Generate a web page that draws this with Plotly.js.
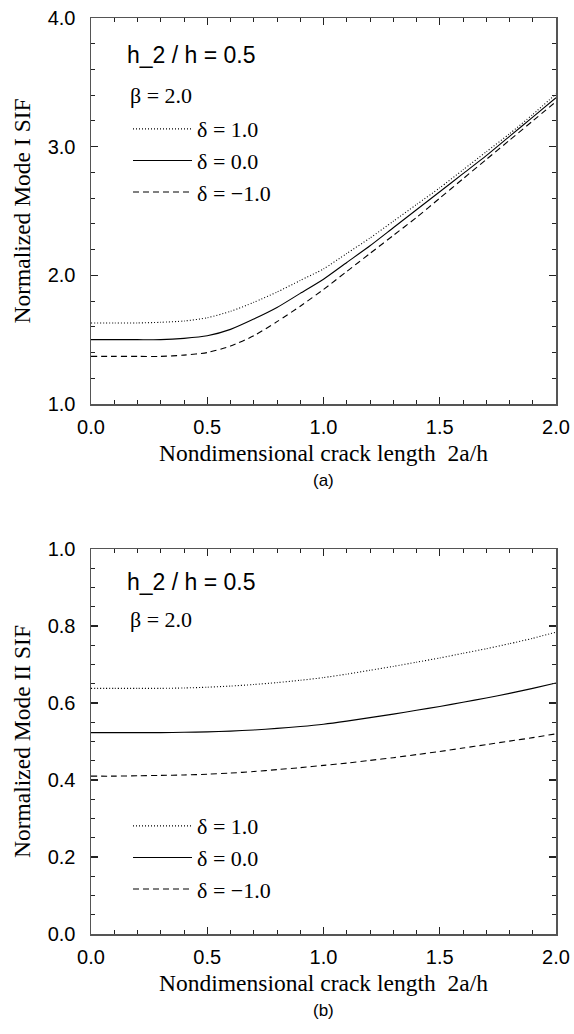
<!DOCTYPE html>
<html>
<head>
<meta charset="utf-8">
<script src="https://cdn.plot.ly/plotly-3.0.1.min.js"></script>
<style>html,body{margin:0;padding:0;background:#fff;}#chart{width:574px;height:1034px;}</style>
</head>
<body>
<div id="chart"></div>
<script>
// ---- data ----
const crackLength = [0.0,0.1,0.2,0.3,0.4,0.5,0.6,0.7,0.8,0.9,1.0,1.1,1.2,1.3,1.4,1.5,1.6,1.7,1.8,1.9,2.0];
const seriesNames = ['δ = 1.0', 'δ = 0.0', 'δ = −1.0'];

// Panel (a): Normalized Mode I SIF
const modeI_d1  = [1.63,1.63,1.63,1.635,1.645,1.67,1.72,1.79,1.87,1.96,2.05,2.17,2.29,2.42,2.55,2.68,2.82,2.96,3.10,3.25,3.41];
const modeI_d0  = [1.50,1.50,1.50,1.50,1.51,1.53,1.58,1.66,1.75,1.86,1.97,2.10,2.23,2.37,2.51,2.65,2.79,2.93,3.08,3.23,3.38];
const modeI_dm1 = [1.37,1.37,1.37,1.37,1.38,1.40,1.45,1.53,1.64,1.76,1.89,2.03,2.17,2.31,2.45,2.60,2.75,2.90,3.05,3.20,3.35];

// Panel (b): Normalized Mode II SIF
const modeII_d1  = [0.638,0.638,0.638,0.638,0.639,0.641,0.644,0.648,0.653,0.659,0.666,0.675,0.685,0.695,0.706,0.717,0.729,0.741,0.754,0.768,0.784];
const modeII_d0  = [0.523,0.523,0.523,0.523,0.524,0.525,0.527,0.530,0.534,0.539,0.545,0.553,0.562,0.571,0.581,0.591,0.602,0.613,0.625,0.638,0.652];
const modeII_dm1 = [0.410,0.410,0.411,0.412,0.413,0.415,0.418,0.422,0.427,0.432,0.438,0.444,0.451,0.458,0.466,0.474,0.483,0.492,0.501,0.510,0.520];

const yTicksI = [1.0,2.0,3.0,4.0];
const yTicksII = [0.0,0.2,0.4,0.6,0.8,1.0];
const xTicks = [0.0,0.5,1.0,1.5,2.0];

// ---- styles ----
const dashes = ['1px,2px', 'solid', '6px,4px'];
const sans = 'Liberation Sans, Arial, sans-serif';
const serif = 'Liberation Serif, Times New Roman, serif';

function mk(y, i, xa, ya, leg) {
  return {
    x: crackLength, y: y, type: 'scatter', mode: 'lines',
    name: seriesNames[i], xaxis: xa, yaxis: ya, legend: leg,
    line: {color: '#000', width: 1.1, dash: dashes[i], shape: 'spline', smoothing: 0.6},
    hoverinfo: 'skip'
  };
}

const traces = [
  mk(modeI_d1, 0, 'x', 'y', 'legend'),
  mk(modeI_d0, 1, 'x', 'y', 'legend'),
  mk(modeI_dm1, 2, 'x', 'y', 'legend'),
  mk(modeII_d1, 0, 'x2', 'y2', 'legend2'),
  mk(modeII_d0, 1, 'x2', 'y2', 'legend2'),
  mk(modeII_dm1, 2, 'x2', 'y2', 'legend2')
];

const fmt = v => v.toFixed(1);

function xax(anchor) {
  return {
    anchor: anchor, domain: [0, 1], range: [0, 2],
    tickvals: xTicks, ticktext: xTicks.map(fmt),
    ticks: 'inside', ticklen: 7, tickwidth: 1.2, tickcolor: '#222',
    minor: {dtick: 0.1, ticks: 'inside', ticklen: 4, tickwidth: 1, tickcolor: '#222'},
    showline: true, linecolor: '#555', linewidth: 1.5, mirror: 'allticks',
    showgrid: false, zeroline: false, ticklabelstandoff: 4,
    tickfont: {family: sans, size: 20, color: '#000'},
    title: {text: 'Nondimensional crack length\u00a0 2a/h', font: {family: serif, size: 23.5, color: '#000'}, standoff: 8}
  };
}
function yax(anchor, domain, range, vals, minorStep, title) {
  return {
    anchor: anchor, domain: domain, range: range,
    tickvals: vals, ticktext: vals.map(fmt),
    ticks: 'inside', ticklen: 7, tickwidth: 1.2, tickcolor: '#222',
    minor: {dtick: minorStep, ticks: 'inside', ticklen: 4, tickwidth: 1, tickcolor: '#222'},
    showline: true, linecolor: '#555', linewidth: 1.5, mirror: 'allticks',
    showgrid: false, zeroline: false, ticklabelstandoff: 10,
    tickfont: {family: sans, size: 20, color: '#000'},
    title: {text: title, font: {family: serif, size: 23.5, color: '#000'}, standoff: 10}
  };
}

const layout = {
  width: 574, height: 1034,
  paper_bgcolor: '#fff', plot_bgcolor: '#fff',
  margin: {l: 91, r: 18, t: 18, b: 100},
  showlegend: true,
  xaxis: xax('y'),
  yaxis: yax('x', [0.5786, 1], [1, 4], yTicksI, 0.2, 'Normalized Mode I SIF'),
  xaxis2: xax('y2'),
  yaxis2: yax('x2', [0, 0.4203], [0, 1], yTicksII, 0.05, 'Normalized Mode II SIF'),
  legend: {x: 0.0796, y: 0.9017, xanchor: 'left', yanchor: 'top', bgcolor: 'rgba(0,0,0,0)',
           font: {family: serif, size: 22, color: '#000'}, itemwidth: 59, tracegroupgap: 0},
  legend2: {x: 0.0796, y: 0.1408, xanchor: 'left', yanchor: 'top', bgcolor: 'rgba(0,0,0,0)',
           font: {family: serif, size: 22, color: '#000'}, itemwidth: 59, tracegroupgap: 0},
  annotations: [
    {text: 'h_2 / h = 0.5', xref: 'x domain', yref: 'y domain', x: 0.073, y: 0.904, xanchor: 'left', yanchor: 'middle', showarrow: false, font: {family: sans, size: 23, color: '#000'}},
    {text: 'β = 2.0', xref: 'x domain', yref: 'y domain', x: 0.08, y: 0.80, xanchor: 'left', yanchor: 'middle', showarrow: false, font: {family: serif, size: 22, color: '#000'}},
    {text: 'h_2 / h = 0.5', xref: 'x2 domain', yref: 'y2 domain', x: 0.073, y: 0.914, xanchor: 'left', yanchor: 'middle', showarrow: false, font: {family: sans, size: 23, color: '#000'}},
    {text: 'β = 2.0', xref: 'x2 domain', yref: 'y2 domain', x: 0.08, y: 0.816, xanchor: 'left', yanchor: 'middle', showarrow: false, font: {family: serif, size: 22, color: '#000'}},
    {text: '(a)', xref: 'paper', yref: 'paper', x: 0.5, y: 0.5786, yshift: -76, xanchor: 'center', yanchor: 'middle', showarrow: false, font: {family: sans, size: 17, color: '#000'}},
    {text: '(b)', xref: 'paper', yref: 'paper', x: 0.5, y: 0, yshift: -76, xanchor: 'center', yanchor: 'middle', showarrow: false, font: {family: sans, size: 17, color: '#000'}}
  ]
};

Plotly.newPlot('chart', traces, layout, {staticPlot: true, displayModeBar: false});
</script>
</body>
</html>
